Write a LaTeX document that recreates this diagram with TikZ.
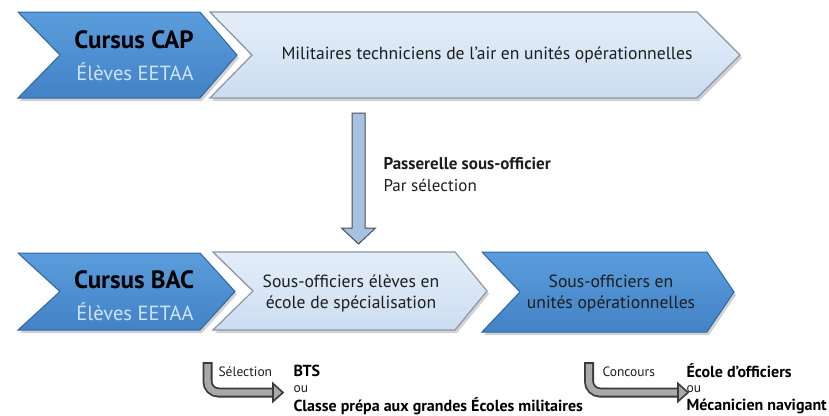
\documentclass[tikz,border=0pt]{standalone}
\usepackage{fontspec}
\setmainfont{PT Sans}
\usetikzlibrary{calc}
\definecolor{dkT}{HTML}{5B9DDC}
\definecolor{dkB}{HTML}{4282C6}
\definecolor{dkE}{HTML}{2F67A3}
\definecolor{ltT}{HTML}{E4EEF9}
\definecolor{ltB}{HTML}{CCDDF1}
\definecolor{ltE}{HTML}{8C96A2}
\definecolor{elv}{HTML}{CFE3F7}
\definecolor{txt}{HTML}{1E1E1E}
\definecolor{arrF}{HTML}{A7C2E0}
\definecolor{arrE}{HTML}{4A4F58}
\definecolor{grF}{HTML}{A9A9A9}
\definecolor{grE}{HTML}{3A3A3A}
\newcommand\mychev[7]{% L T R B notch tip style
  \fill[black,opacity=.18] ($(#1,#2)+(2,3)$) -- ($(#3,#2)+(2,3)$) -- ($(#3+#6,{(#2+#4)/2})+(2,3)$) -- ($(#3,#4)+(2,3)$) -- ($(#1,#4)+(2,3)$) -- ($(#1+#5,{(#2+#4)/2})+(2,3)$) -- cycle;
  \path[#7] (#1,#2) -- (#3,#2) -- (#3+#6,{(#2+#4)/2}) -- (#3,#4) -- (#1,#4) -- (#1+#5,{(#2+#4)/2}) -- cycle;
}
\tikzset{
  darkchev/.style={top color=dkT,bottom color=dkB,draw=dkE,line width=1pt,line join=miter},
  lightchev/.style={top color=ltT,bottom color=ltB,draw=ltE,line width=1.2pt,line join=miter},
  ttl/.style={font=\bfseries\fontsize{25}{28}\selectfont,text=black},
  sub/.style={font=\fontsize{20.5}{24}\selectfont,text=elv},
  body/.style={font=\fontsize{17.6}{21}\selectfont,text=txt,align=center},
  lbl/.style={font=\fontsize{17}{22}\selectfont,text=txt,align=left,anchor=west},
  small/.style={font=\fontsize{13.5}{16}\selectfont,text=txt},
  smallb/.style={font=\bfseries\fontsize{16}{18}\selectfont,text=black,anchor=west},
}
\begin{document}
\begin{tikzpicture}[x=1pt,y=-1pt]
\useasboundingbox (0,0) rectangle (829,415);
\fill[white] (0,0) rectangle (829,415);

% top row
\mychev{210}{12}{697}{98}{42}{43}{lightchev}
\mychev{18}{12}{200}{98}{42}{37}{darkchev}
% bottom row
\mychev{482}{252}{707}{332}{38}{27}{darkchev}
\mychev{213}{252}{455}{330}{40}{32}{lightchev}
\mychev{18}{253}{200}{330}{42}{35}{darkchev}

% texts
\node[ttl] (cap) at (134,40) {Cursus CAP};
\node[sub] (cape) at (135,72) {Élèves EETAA};
\node[body] (mil) at (487,55) {Militaires techniciens de l’air en unités opérationnelles};
\node[ttl] (bac) at (134,280) {Cursus BAC};
\node[sub] (bace) at (135,312) {Élèves EETAA};
\node[body] (soe) at (351,293) {Sous-officiers élèves en\\école de spécialisation};
\node[body] (sou) at (611,293) {Sous-officiers en\\unités opérationnelles};

% vertical block arrow
\coordinate (va) at (358.5,113);
\coordinate (vb) at (358.5,244);
\filldraw[fill=arrF,draw=arrE,line width=1pt,line join=miter]
  ($(va)+(-6.5,0)$) -- ($(va)+(6.5,0)$) -- ($(vb)+(6.5,-16)$) -- ($(vb)+(17,-16)$) -- (vb)
  -- ($(vb)+(-17,-16)$) -- ($(vb)+(-6.5,-16)$) -- cycle;
\node[lbl] (pas) at (380,175) {\textbf{Passerelle sous-officier}\\Par sélection};

% bottom bent arrows
\coordinate (s1) at (207.5,362);
\coordinate (s2) at (273,392.5);
\draw[grE,line width=10pt,rounded corners=11pt] (s1) |- (s2);
\draw[grF,line width=6.4pt,rounded corners=11pt] ($(s1)+(0,2)$) |- ($(s2)+(1,0)$);
\filldraw[fill=grF,draw=grE,line width=1.6pt,line join=miter] ($(s2)+(0,-9)$) -- ($(s2)+(10,0)$) -- ($(s2)+(0,9)$) -- cycle;
\node[small,anchor=west] (sel) at (215,372) {Sélection};
\node[smallb] (bts) at (290,371) {BTS};
\node[small,anchor=west] (ou1) at (290,389) {ou};
\node[smallb] (cla) at (290,406) {Classe prépa aux grandes Écoles militaires};

\coordinate (c1) at (589,362);
\coordinate (c2) at (678,392.5);
\draw[grE,line width=10pt,rounded corners=11pt] (c1) |- (c2);
\draw[grF,line width=6.4pt,rounded corners=11pt] ($(c1)+(0,2)$) |- ($(c2)+(1,0)$);
\filldraw[fill=grF,draw=grE,line width=1.6pt,line join=miter] ($(c2)+(0,-9)$) -- ($(c2)+(10,0)$) -- ($(c2)+(0,9)$) -- cycle;
\node[small,anchor=west] (con) at (599,372) {Concours};
\node[smallb] (eco) at (683,371) {École d’officiers};
\node[small,anchor=west] (ou2) at (683,389) {ou};
\node[smallb] (mec) at (683,406) {Mécanicien navigant};
\end{tikzpicture}
\end{document}
